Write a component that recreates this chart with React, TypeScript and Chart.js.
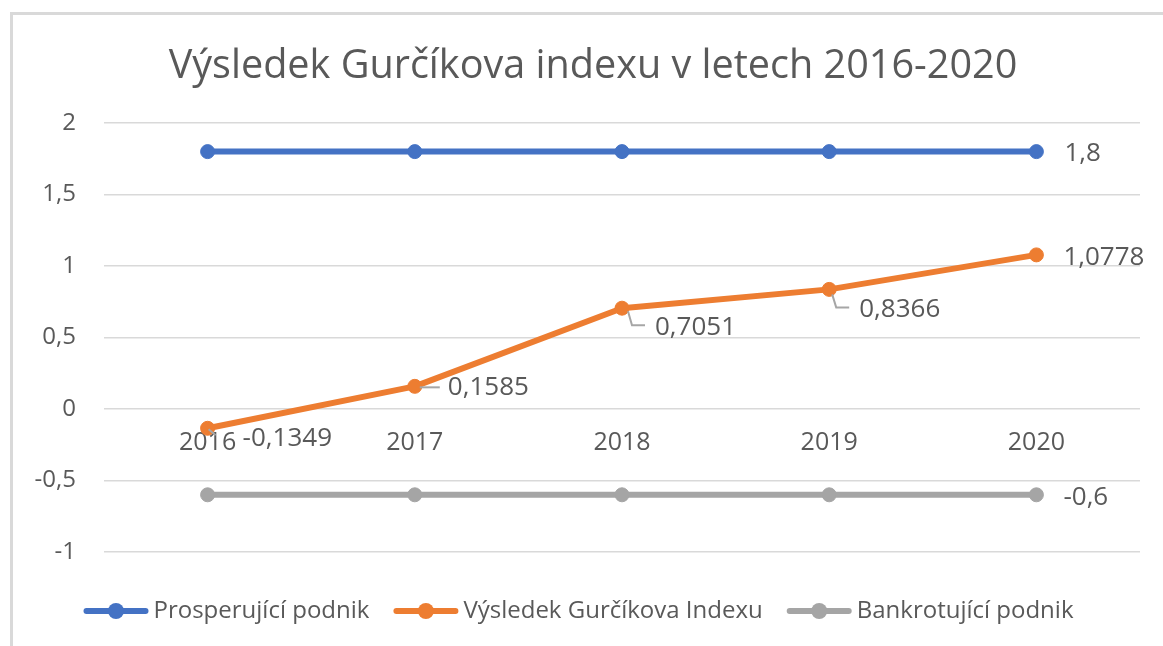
import React, { useEffect, useRef } from 'react';
import { Chart, registerables } from 'chart.js';

Chart.register(...registerables);

const TITLE = 'Výsledek Gurčíkova indexu v letech 2016-2020';
const YEARS = ['2016', '2017', '2018', '2019', '2020'];
const PROSPERUJICI = [1.8, 1.8, 1.8, 1.8, 1.8];
const GURCIK = [-0.1349, 0.1585, 0.7051, 0.8366, 1.0778];
const BANKROT = [-0.6, -0.6, -0.6, -0.6, -0.6];
const SERIES_NAMES = ['Prosperující podnik', 'Výsledek Gurčíkova Indexu', 'Bankrotující podnik'];
const COLORS = ['#4472C4', '#ED7D31', '#A5A5A5'];
const Y_MIN = -1;
const Y_MAX = 2;
const Y_STEP = 0.5;

const FONT = "'Open Sans', 'Noto Sans', sans-serif";
const TEXT_COLOR = '#595959';
const GRID_COLOR = '#d9d9d9';
const LEADER_COLOR = '#a6a6a6';
const TITLE_SHIFT = 23;

type LabelPlace = { dx: number; dy: number; leader?: number[][] } | null;

// label placement per series / point (style, relative to the point pixel)
const LABEL_PLACES: LabelPlace[][] = [
  [null, null, null, null, { dx: 28, dy: 2 }],
  [
    { dx: 35, dy: 10, leader: [[1, 1], [8, 7]] },
    { dx: 33, dy: 1, leader: [[5, 1], [25, 1]] },
    { dx: 33, dy: 19, leader: [[6, 3], [10, 17], [23, 17]] },
    { dx: 30, dy: 20, leader: [[3, 5], [7, 18], [20, 18]] },
    { dx: 27, dy: 3 },
  ],
  [null, null, null, null, { dx: 27, dy: 3 }],
];

const fmt = (v: number) => String(v).replace('.', ',');

const borderPlugin = {
  id: 'frameBorder',
  afterLayout(chart: any) {
    const t = chart.titleBlock;
    if (t) {
      t.left += TITLE_SHIFT;
      t.right += TITLE_SHIFT;
    }
  },
  beforeDraw(chart: any) {
    const { ctx, width, height } = chart;
    ctx.save();
    ctx.strokeStyle = GRID_COLOR;
    ctx.lineWidth = 3;
    ctx.beginPath();
    ctx.moveTo(10, 13.5);
    ctx.lineTo(width, 13.5);
    ctx.moveTo(11.5, 12);
    ctx.lineTo(11.5, height);
    ctx.stroke();
    ctx.restore();
  },
};

const dataLabelPlugin = {
  id: 'dataLabels',
  afterDatasetsDraw(chart: any) {
    const { ctx } = chart;
    ctx.save();
    ctx.font = `26px ${FONT}`;
    ctx.fillStyle = TEXT_COLOR;
    ctx.textAlign = 'left';
    ctx.textBaseline = 'middle';
    chart.data.datasets.forEach((ds: any, di: number) => {
      const meta = chart.getDatasetMeta(di);
      meta.data.forEach((pt: any, i: number) => {
        const place = LABEL_PLACES[di] && LABEL_PLACES[di][i];
        if (!place) return;
        const x = pt.x;
        const y = pt.y;
        if (place.leader) {
          ctx.strokeStyle = LEADER_COLOR;
          ctx.lineWidth = 2;
          ctx.beginPath();
          place.leader.forEach((p, k) => {
            if (k === 0) ctx.moveTo(x + p[0], y + p[1]);
            else ctx.lineTo(x + p[0], y + p[1]);
          });
          ctx.stroke();
        }
        ctx.fillText(fmt(ds.data[i]), x + place.dx, y + place.dy);
      });
    });
    ctx.restore();
  },
};

const legendPlugin = {
  id: 'customLegend',
  afterDraw(chart: any) {
    const { ctx, width } = chart;
    const lineW = 65;
    const gap = 5;
    const itemGap = 24;
    const cy = 611;
    ctx.save();
    ctx.font = `24px ${FONT}`;
    const widths = SERIES_NAMES.map((n) => ctx.measureText(n).width);
    const total = widths.reduce((a, w) => a + lineW + gap + w, 0) + itemGap * (SERIES_NAMES.length - 1);
    let x = (width - total) / 2 - 3;
    SERIES_NAMES.forEach((name, i) => {
      ctx.strokeStyle = COLORS[i];
      ctx.fillStyle = COLORS[i];
      ctx.lineWidth = 6;
      ctx.lineCap = 'round';
      ctx.beginPath();
      ctx.moveTo(x + 3, cy);
      ctx.lineTo(x + lineW - 3, cy);
      ctx.stroke();
      ctx.beginPath();
      ctx.arc(x + lineW / 2, cy, 8, 0, Math.PI * 2);
      ctx.fill();
      ctx.fillStyle = TEXT_COLOR;
      ctx.textAlign = 'left';
      ctx.textBaseline = 'middle';
      ctx.fillText(name, x + lineW + gap, cy);
      x += lineW + gap + widths[i] + itemGap;
    });
    ctx.restore();
  },
};

export default function App() {
  const ref = useRef<HTMLCanvasElement | null>(null);

  useEffect(() => {
    if (!ref.current) return;
    const series = [PROSPERUJICI, GURCIK, BANKROT];
    const chart = new Chart(ref.current, {
      type: 'line',
      data: {
        labels: YEARS,
        datasets: series.map((d, i) => ({
          label: SERIES_NAMES[i],
          data: d,
          borderColor: COLORS[i],
          backgroundColor: COLORS[i],
          pointBackgroundColor: COLORS[i],
          pointBorderColor: COLORS[i],
          borderWidth: 6,
          pointRadius: 7,
          pointBorderWidth: 1,
          tension: 0,
          fill: false,
          borderCapStyle: 'round',
          borderJoinStyle: 'round',
        })),
      },
      options: {
        animation: false,
        responsive: false,
        maintainAspectRatio: false,
        layout: { padding: { left: 0, right: 23, top: 0, bottom: 94 } },
        plugins: {
          legend: { display: false },
          tooltip: { enabled: false },
          title: {
            display: true,
            text: TITLE,
            color: TEXT_COLOR,
            font: { family: FONT, size: 39.6, weight: 'normal', lineHeight: 1.2 },
            padding: { top: 42.6, bottom: 32.9 },
          },
        },
        scales: {
          x: {
            type: 'category',
            position: { y: 0 },
            offset: true,
            grid: { display: false, drawTicks: false },
            border: { display: false },
            ticks: { color: TEXT_COLOR, font: { family: FONT, size: 25 }, padding: 19 },
          },
          y: {
            min: Y_MIN,
            max: Y_MAX,
            ticks: {
              stepSize: Y_STEP,
              color: TEXT_COLOR,
              font: { family: FONT, size: 24 },
              padding: 28,
              callback: (v: any) => fmt(Number(v)),
            },
            grid: { color: GRID_COLOR, lineWidth: 1.5, drawTicks: false },
            border: { display: false },
            afterFit: (s: any) => {
              s.width = 104;
            },
          },
        },
      } as any,
      plugins: [borderPlugin, dataLabelPlugin, legendPlugin],
    });
    return () => chart.destroy();
  }, []);

  return (
    <div style={{ position: 'fixed', left: 0, top: 0, width: 1163, height: 646, background: '#fff' }}>
      <canvas ref={ref} width={1163} height={646} style={{ display: 'block' }} />
    </div>
  );
}
